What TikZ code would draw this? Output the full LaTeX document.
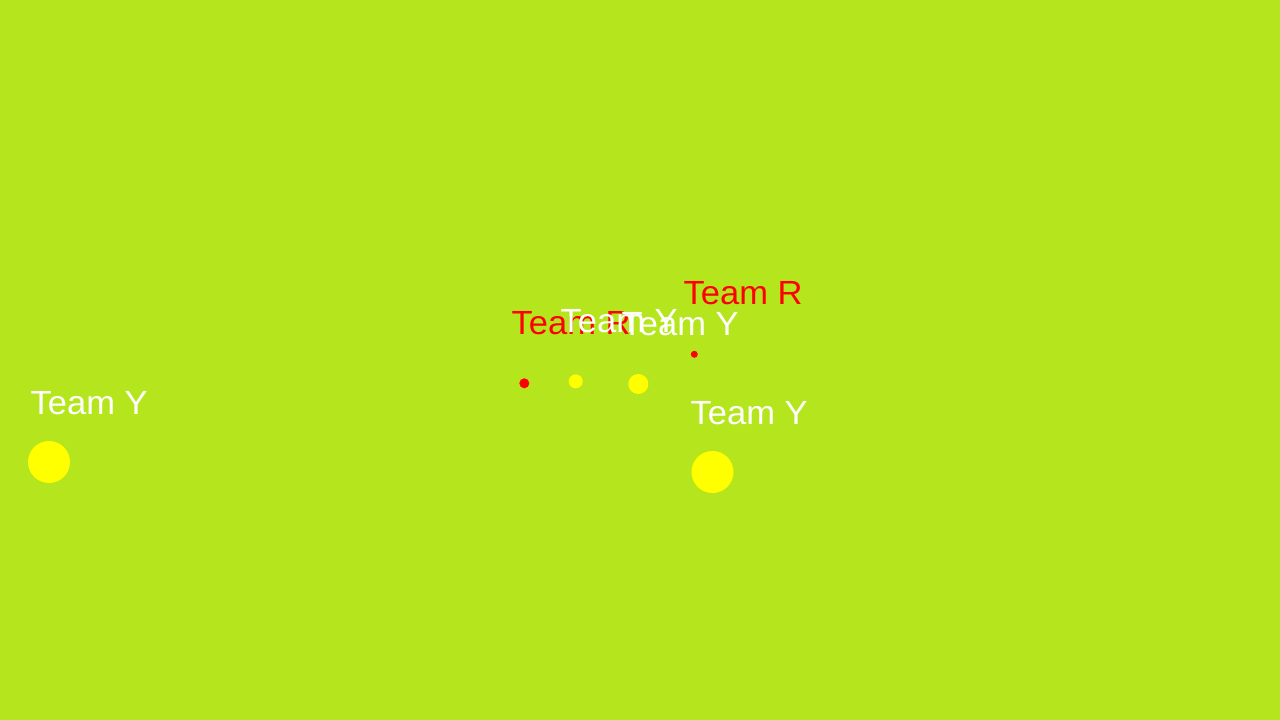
\documentclass[tikz,border=0pt]{standalone}
\usepackage{fontspec}
\setmainfont{Liberation Sans}[FakeStretch=1.03]
\definecolor{bg}{RGB}{181,230,29}
\definecolor{dotyellow}{RGB}{255,255,0}
\definecolor{dotred}{RGB}{255,0,0}
\tikzset{
  dot/.style={circle, inner sep=0pt, minimum size=#1, draw=none},
  ydot/.style={dot=#1, fill=dotyellow},
  rdot/.style={dot=#1, fill=dotred},
  lbl/.style={anchor=base west, inner sep=0pt, font=\fontsize{33.5}{40}\selectfont},
  ylbl/.style={lbl, text=white},
  rlbl/.style={lbl, text=dotred},
}
\begin{document}
\begin{tikzpicture}[x=1pt,y=-1pt]
\fill[bg] (0,0) rectangle (1280,720);
\useasboundingbox (0,0) rectangle (1280,720);
% dots
\node[ydot=42pt] (y1) at (49,462) {};
\node[ydot=42pt] (y2) at (712.5,472) {};
\node[rdot=10pt] (r1) at (524.3,383.3) {};
\node[ydot=14pt] (y3) at (575.7,381.3) {};
\node[ydot=20pt] (y4) at (638.3,384) {};
\node[rdot=7pt] (r2) at (694.3,354.3) {};
% labels
\node[ylbl] (ly1) at (30.5,414) {Team Y};
\node[ylbl] (ly2) at (690.5,424) {Team Y};
\node[rlbl] (lr2) at (683.5,304) {Team R};
\node[rlbl] (lr1) at (511.5,334) {Team R};
\node[ylbl] (ly3) at (560.5,332) {Team Y};
\node[ylbl] (ly4) at (621.5,335) {Team Y};
\end{tikzpicture}
\end{document}
